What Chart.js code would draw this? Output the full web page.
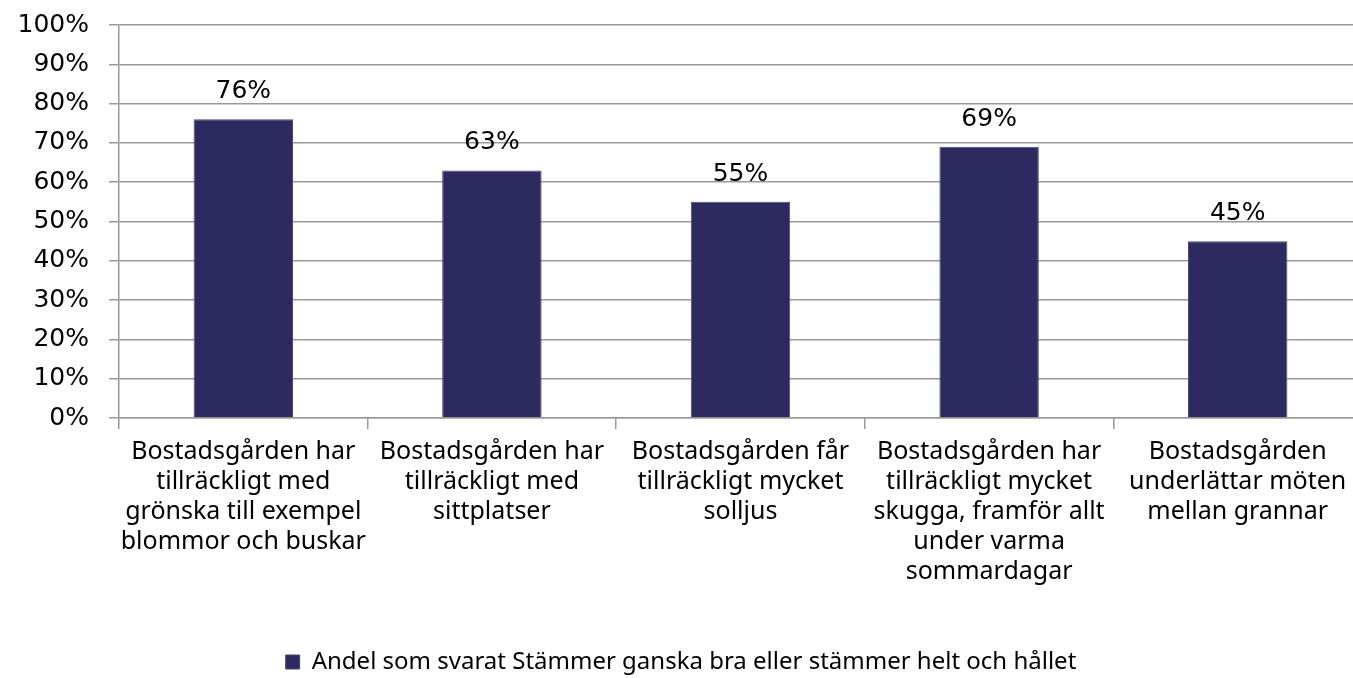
<!DOCTYPE html>
<html>
<head>
<meta charset="utf-8">
<style>
  html, body { margin: 0; background: #fff; overflow: hidden; }
</style>
</head>
<body>
<!-- a bit wider than the window: the plot runs past the right edge, as in the original -->
<canvas id="myChart" width="1362" height="678"></canvas>

<script src="https://cdn.jsdelivr.net/npm/chart.js"></script>
<script>
const categories = [
  ["Bostadsgården har", "tillräckligt med", "grönska till exempel", "blommor och buskar"],
  ["Bostadsgården har", "tillräckligt med", "sittplatser"],
  ["Bostadsgården får", "tillräckligt mycket", "solljus"],
  ["Bostadsgården har", "tillräckligt mycket", "skugga, framför allt", "under varma", "sommardagar"],
  ["Bostadsgården", "underlättar möten", "mellan grannar"]
];
const shareAgree = [76, 63, 55, 69, 45];
const seriesName = "Andel som svarat Stämmer ganska bra eller stämmer helt och hållet";
const yTicks = [0, 10, 20, 30, 40, 50, 60, 70, 80, 90, 100];

const barColor = "#2c2a5f";
const gridColor = "#999999";
const labelFont = "'Noto Sans', sans-serif";
const axisFont = "'DejaVu Sans', sans-serif";

// value labels above each bar
const valueLabels = {
  id: 'valueLabels',
  afterDatasetsDraw(chart) {
    const ctx = chart.ctx;
    const meta = chart.getDatasetMeta(0);
    ctx.save();
    ctx.font = "25px " + axisFont;
    ctx.fillStyle = "#000";
    ctx.textAlign = "center";
    ctx.textBaseline = "alphabetic";
    meta.data.forEach((bar, i) => {
      ctx.fillText(shareAgree[i] + "%", bar.x, bar.y - 21);
    });
    ctx.restore();
  }
};

new Chart(document.getElementById('myChart'), {
  type: 'bar',
  data: {
    labels: categories,
    datasets: [{
      label: seriesName,
      data: shareAgree,
      backgroundColor: barColor,
      borderColor: "#4a4878",
      borderWidth: 1,
      barPercentage: 0.4,
      categoryPercentage: 1.0
    }]
  },
  options: {
    responsive: false,
    animation: false,
    devicePixelRatio: 1,
    layout: { padding: { top: 25, right: 0, bottom: -6, left: 0 } },
    plugins: {
      tooltip: { enabled: false },
      legend: {
        position: 'bottom',
        labels: {
          color: "#000",
          font: { family: labelFont, size: 24 },
          boxWidth: 14,
          boxHeight: 14,
          padding: 4
        }
      }
    },
    scales: {
      x: {
        grid: {
          offset: true,
          drawOnChartArea: false,
          drawTicks: true,
          tickLength: 11,
          color: gridColor,
          lineWidth: 1.5
        },
        border: { display: true, color: gridColor, width: 1.5 },
        ticks: {
          color: "#000",
          font: { family: labelFont, size: 25, lineHeight: 1.2 },
          maxRotation: 0,
          minRotation: 0,
          autoSkip: false,
          padding: 8
        },
        afterFit(scale) {
          scale.height = 228;
          scale.paddingLeft = 0;
          scale.paddingRight = 0;
        }
      },
      y: {
        min: 0,
        max: 100,
        afterBuildTicks(scale) { scale.ticks = yTicks.map(v => ({ value: v })); },
        grid: {
          color: gridColor,
          lineWidth: 1.5,
          tickLength: 10,
          drawTicks: true
        },
        border: { display: true, color: gridColor, width: 1.5 },
        ticks: {
          color: "#000",
          font: { family: axisFont, size: 25 },
          padding: 20,
          callback: v => v + "%"
        },
        afterFit(scale) {
          scale.width = 119;
          scale.paddingTop = 0;
          scale.paddingBottom = 0;
        }
      }
    }
  },
  plugins: [valueLabels]
});
</script>
</body>
</html>
